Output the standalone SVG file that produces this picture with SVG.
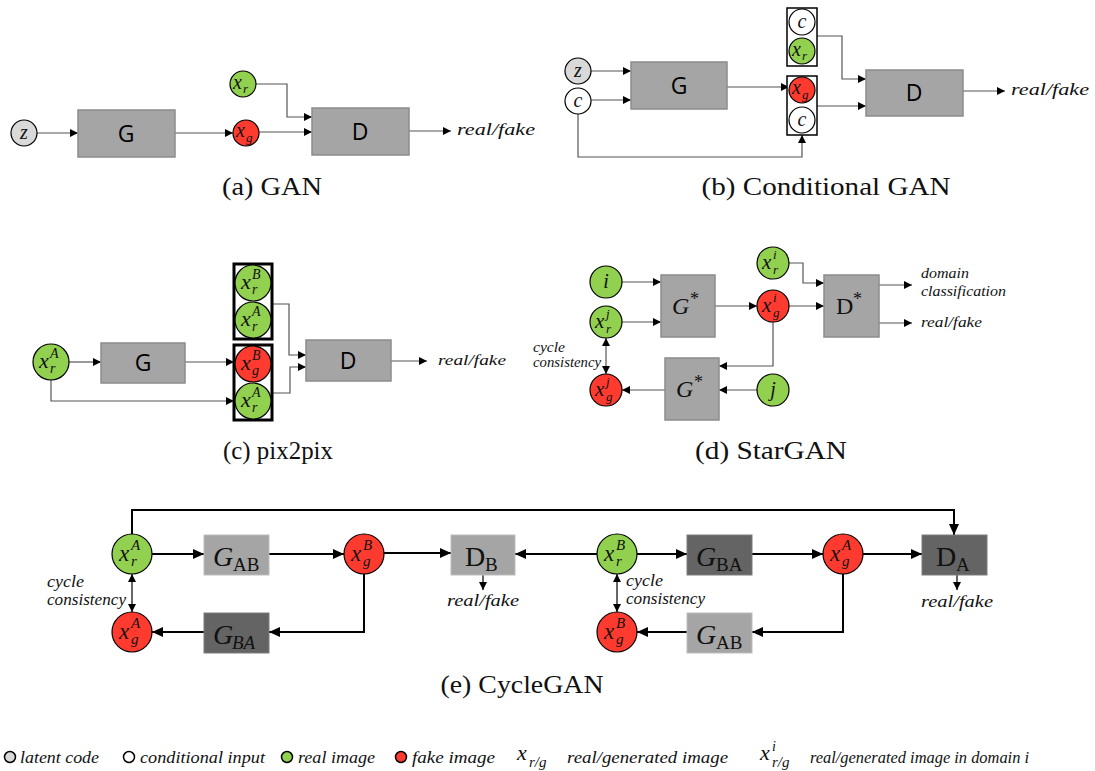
<svg xmlns="http://www.w3.org/2000/svg" width="1095" height="771" viewBox="0 0 1095 771">
<defs>
<marker id="a" markerUnits="userSpaceOnUse" markerWidth="8" markerHeight="8" refX="8" refY="4" orient="auto-start-reverse"><path d="M0,0 L8,4 L0,8 z" fill="#000"/></marker>
<marker id="b" markerUnits="userSpaceOnUse" markerWidth="11" markerHeight="10" refX="11" refY="5" orient="auto-start-reverse"><path d="M0,0 L11,5 L0,10 z" fill="#000"/></marker>
<style>
.box{fill:#a5a5a5;stroke:#8c8c8c;stroke-width:1.5}
.dk{fill:#646464;stroke:#7c7c7c;stroke-width:1}
.lt{fill:#a5a5a5;stroke:#bdbdbd;stroke-width:1}
.gr{fill:#92d050;stroke:#000;stroke-width:1.2}
.rd{fill:#ff3b30;stroke:#000;stroke-width:1.2}
.wh{fill:#fff;stroke:#000;stroke-width:1.2}
.zc{fill:#d9d9d9;stroke:#000;stroke-width:1.2}
.stk{fill:#fff;stroke:#000;stroke-width:1.5}
.stk3{fill:#fff;stroke:#000;stroke-width:3}
.ln{fill:none;stroke:#555;stroke-width:1.2;marker-end:url(#a)}
.lb{fill:none;stroke:#000;stroke-width:2;marker-end:url(#b)}
.sans{font-family:'Open Sans','Liberation Sans',sans-serif;font-size:23px;fill:#000;text-anchor:middle}
.m{font-family:'Liberation Serif',serif;font-style:italic;fill:#111}
.cap{font-family:'Liberation Serif',serif;font-size:26px;fill:#111;text-anchor:middle}
.sr{font-family:'Liberation Serif',serif;fill:#111}
</style>
</defs>

<g id="connectors">
<!-- (a) -->
<line class="ln" x1="37" y1="133" x2="78" y2="133"/>
<line class="ln" x1="175" y1="133" x2="233" y2="133"/>
<line class="ln" x1="259" y1="132" x2="312" y2="132"/>
<path class="ln" d="M256,84 H287 V117 H312"/>
<line class="ln" x1="409" y1="131" x2="451" y2="131"/>
<!-- (b) -->
<line class="ln" x1="591" y1="71" x2="631" y2="71"/>
<line class="ln" x1="591" y1="100" x2="631" y2="100"/>
<line class="ln" x1="727" y1="87" x2="789" y2="87"/>
<path class="ln" d="M817,36 H842 V79 H866"/>
<path class="ln" d="M817,106 H866"/>
<path class="ln" d="M578,114 V157 H802 V135"/>
<line class="ln" x1="963" y1="91" x2="1005" y2="91"/>
<!-- (c) -->
<line class="ln" x1="69" y1="362" x2="101" y2="362"/>
<line class="ln" x1="185" y1="362" x2="234" y2="362"/>
<path class="ln" d="M51,380 V401 H234"/>
<path class="ln" d="M272,304 H289 V355 H306"/>
<path class="ln" d="M272,393 H290 V367 H306"/>
<line class="ln" x1="391" y1="361" x2="427" y2="361"/>
<!-- (d) -->
<line class="ln" x1="622" y1="282" x2="661" y2="282"/>
<line class="ln" x1="622" y1="322" x2="661" y2="322"/>
<line class="ln" x1="715" y1="306" x2="757" y2="306"/>
<line class="ln" x1="789" y1="306" x2="824" y2="306"/>
<path class="ln" d="M789,263 H803 V283 H824"/>
<line class="ln" x1="879" y1="285" x2="912" y2="285"/>
<line class="ln" x1="879" y1="323" x2="912" y2="323"/>
<path class="ln" d="M773,322 V366 H719"/>
<line class="ln" x1="757" y1="390" x2="719" y2="390"/>
<line class="ln" x1="665" y1="390" x2="622" y2="390"/>
<line class="ln" x1="606" y1="338" x2="606" y2="374" marker-start="url(#a)"/>
<!-- (e) -->
<path class="lb" d="M132,534 V510 H954 V535"/>
<line class="lb" x1="152" y1="554" x2="204" y2="554"/>
<line class="lb" x1="269" y1="554" x2="344" y2="554"/>
<line class="lb" x1="384" y1="553" x2="451" y2="553"/>
<line class="lb" x1="597" y1="554" x2="515" y2="554"/>
<line class="lb" x1="637" y1="554" x2="687" y2="554"/>
<line class="lb" x1="752" y1="554" x2="823" y2="554"/>
<line class="lb" x1="863" y1="554" x2="922" y2="554"/>
<line class="ln" style="stroke:#000" x1="483" y1="575" x2="483" y2="590"/>
<line class="ln" style="stroke:#000" x1="957" y1="575" x2="957" y2="590"/>
<path class="lb" d="M364,574 V632 H269"/>
<line class="lb" x1="204" y1="632" x2="152" y2="632"/>
<path class="lb" d="M843,574 V632 H752"/>
<line class="lb" x1="687" y1="632" x2="637" y2="632"/>
<line class="ln" style="stroke:#000" x1="132" y1="574" x2="132" y2="612" marker-start="url(#a)"/>
<line class="ln" style="stroke:#000" x1="617" y1="574" x2="617" y2="612" marker-start="url(#a)"/>
</g>

<!-- ===== (a) GAN ===== -->
<g id="a-z"><circle class="zc" cx="24" cy="133" r="13"/><text class="m" x="24" y="139" font-size="20" text-anchor="middle">z</text></g>
<g id="a-G"><rect class="box" x="78" y="110" width="97" height="47"/><text class="sans" x="126" y="142">G</text></g>
<g id="a-xr"><circle class="gr" cx="243" cy="84" r="13"/><text class="m" x="233" y="89" font-size="20">x</text><text class="m" x="243" y="93" font-size="13">r</text></g>
<g id="a-xg"><circle class="rd" cx="246" cy="133" r="13"/><text class="m" x="236" y="137" font-size="20">x</text><text class="m" x="246" y="142" font-size="13">g</text></g>
<g id="a-D"><rect class="box" x="312" y="108" width="97" height="47"/><text class="sans" x="360" y="140">D</text></g>
<text class="m" x="457" y="135" font-size="16" textLength="78" lengthAdjust="spacingAndGlyphs">real/fake</text>
<text class="cap" x="272" y="195" textLength="100" lengthAdjust="spacingAndGlyphs">(a) GAN</text>

<!-- ===== (b) Conditional GAN ===== -->
<g id="b-z"><circle class="zc" cx="578" cy="71" r="13"/><text class="m" x="578" y="77" font-size="20" text-anchor="middle">z</text></g>
<g id="b-c"><circle class="wh" cx="578" cy="101" r="13"/><text class="m" x="578" y="107" font-size="20" text-anchor="middle">c</text></g>
<g id="b-G"><rect class="box" x="631" y="62" width="96" height="47"/><text class="sans" x="679" y="94">G</text></g>
<g id="b-top"><rect class="stk" x="787" y="8" width="30" height="58"/>
<circle class="wh" cx="802" cy="22" r="13"/><text class="m" x="802" y="28" font-size="20" text-anchor="middle">c</text>
<circle class="gr" cx="802" cy="51" r="13"/><text class="m" x="792" y="56" font-size="20">x</text><text class="m" x="802" y="60" font-size="13">r</text></g>
<g id="b-bot"><rect class="stk" x="787" y="76" width="30" height="59"/>
<circle class="rd" cx="802" cy="90" r="13"/><text class="m" x="792" y="94" font-size="20">x</text><text class="m" x="802" y="99" font-size="13">g</text>
<circle class="wh" cx="802" cy="120" r="13"/><text class="m" x="802" y="126" font-size="20" text-anchor="middle">c</text></g>
<g id="b-D"><rect class="box" x="866" y="70" width="97" height="46"/><text class="sans" x="914" y="101">D</text></g>
<text class="m" x="1011" y="95" font-size="16" textLength="78" lengthAdjust="spacingAndGlyphs">real/fake</text>
<text class="cap" x="826" y="195" textLength="249" lengthAdjust="spacingAndGlyphs">(b) Conditional GAN</text>

<!-- ===== (c) pix2pix ===== -->
<g id="c-xrA"><circle class="gr" cx="51" cy="362" r="18"/><text class="m" x="39" y="368" font-size="22">x</text><text class="m" x="50" y="358" font-size="14">A</text><text class="m" x="50" y="373" font-size="14">r</text></g>
<g id="c-G"><rect class="box" x="101" y="343" width="84" height="40"/><text class="sans" x="143" y="371">G</text></g>
<g id="c-top"><rect class="stk3" x="234" y="264" width="38" height="75"/>
<circle class="gr" cx="253" cy="283" r="18"/><text class="m" x="241" y="289" font-size="22">x</text><text class="m" x="252" y="279" font-size="14">B</text><text class="m" x="252" y="294" font-size="14">r</text>
<circle class="gr" cx="253" cy="320" r="18"/><text class="m" x="241" y="326" font-size="22">x</text><text class="m" x="252" y="316" font-size="14">A</text><text class="m" x="252" y="331" font-size="14">r</text></g>
<g id="c-bot"><rect class="stk3" x="234" y="345" width="38" height="75"/>
<circle class="rd" cx="253" cy="364" r="18"/><text class="m" x="241" y="370" font-size="22">x</text><text class="m" x="252" y="360" font-size="14">B</text><text class="m" x="252" y="375" font-size="14">g</text>
<circle class="gr" cx="253" cy="401" r="18"/><text class="m" x="241" y="407" font-size="22">x</text><text class="m" x="252" y="397" font-size="14">A</text><text class="m" x="252" y="412" font-size="14">r</text></g>
<g id="c-D"><rect class="box" x="306" y="340" width="85" height="41"/><text class="sans" x="348" y="369">D</text></g>
<text class="m" x="438" y="365" font-size="15" textLength="68" lengthAdjust="spacingAndGlyphs">real/fake</text>
<text class="cap" x="278" y="459" textLength="110" lengthAdjust="spacingAndGlyphs">(c) pix2pix</text>

<!-- ===== (d) StarGAN ===== -->
<g id="d-i"><circle class="gr" cx="606" cy="282" r="16"/><text class="m" x="606" y="288" font-size="20" text-anchor="middle">i</text></g>
<g id="d-xrj"><circle class="gr" cx="606" cy="322" r="16"/><text class="m" x="595" y="328" font-size="21">x</text><text class="m" x="606" y="318" font-size="13">j</text><text class="m" x="606" y="333" font-size="13">r</text></g>
<g id="d-G1"><rect class="box" x="661" y="275" width="54" height="62"/><text class="m" x="672" y="314" font-size="24">G</text><text class="sr" x="690" y="305" font-size="18">*</text></g>
<g id="d-xgi"><circle class="rd" cx="773" cy="306" r="16"/><text class="m" x="762" y="312" font-size="21">x</text><text class="m" x="773" y="302" font-size="13">i</text><text class="m" x="773" y="317" font-size="13">g</text></g>
<g id="d-xri"><circle class="gr" cx="773" cy="263" r="16"/><text class="m" x="762" y="269" font-size="21">x</text><text class="m" x="773" y="259" font-size="13">i</text><text class="m" x="773" y="274" font-size="13">r</text></g>
<g id="d-D"><rect class="box" x="824" y="275" width="55" height="62"/><text class="sr" x="836" y="314" font-size="24">D</text><text class="sr" x="853" y="305" font-size="18">*</text></g>
<text class="m" x="921" y="278" font-size="14" textLength="48" lengthAdjust="spacingAndGlyphs">domain</text>
<text class="m" x="921" y="296" font-size="14" textLength="85" lengthAdjust="spacingAndGlyphs">classification</text>
<text class="m" x="921" y="327" font-size="14" textLength="61" lengthAdjust="spacingAndGlyphs">real/fake</text>
<g id="d-G2"><rect class="box" x="665" y="358" width="54" height="62"/><text class="m" x="676" y="397" font-size="24">G</text><text class="sr" x="694" y="388" font-size="18">*</text></g>
<g id="d-j"><circle class="gr" cx="773" cy="390" r="16"/><text class="m" x="773" y="396" font-size="20" text-anchor="middle">j</text></g>
<g id="d-xgj"><circle class="rd" cx="606" cy="390" r="16"/><text class="m" x="595" y="396" font-size="21">x</text><text class="m" x="606" y="386" font-size="13">j</text><text class="m" x="606" y="401" font-size="13">g</text></g>
<text class="m" x="533" y="352" font-size="14" textLength="32" lengthAdjust="spacingAndGlyphs">cycle</text>
<text class="m" x="533" y="367" font-size="14" textLength="68" lengthAdjust="spacingAndGlyphs">consistency</text>
<text class="cap" x="771" y="459" textLength="152" lengthAdjust="spacingAndGlyphs">(d) StarGAN</text>

<!-- ===== (e) CycleGAN ===== -->
<g id="e-xrA"><circle class="gr" cx="132" cy="554" r="20"/><text class="m" x="119" y="561" font-size="23">x</text><text class="m" x="131" y="550" font-size="15">A</text><text class="m" x="131" y="566" font-size="15">r</text></g>
<g id="e-GAB1"><rect class="lt" x="204" y="535" width="65" height="40"/><text class="m" x="213" y="566" font-size="28">G</text><text class="sr" x="233" y="571" font-size="19">AB</text></g>
<g id="e-xgB1"><circle class="rd" cx="364" cy="554" r="20"/><text class="m" x="351" y="561" font-size="23">x</text><text class="m" x="363" y="550" font-size="15">B</text><text class="m" x="363" y="566" font-size="15">g</text></g>
<g id="e-DB"><rect class="lt" x="451" y="535" width="64" height="40"/><text class="sr" x="465" y="566" font-size="28">D</text><text class="sr" x="485" y="571" font-size="19">B</text></g>
<g id="e-xrB"><circle class="gr" cx="617" cy="554" r="20"/><text class="m" x="604" y="561" font-size="23">x</text><text class="m" x="616" y="550" font-size="15">B</text><text class="m" x="616" y="566" font-size="15">r</text></g>
<g id="e-GBA1"><rect class="dk" x="687" y="535" width="65" height="40"/><text class="m" x="696" y="566" font-size="28">G</text><text class="sr" x="716" y="571" font-size="19">BA</text></g>
<g id="e-xgA1"><circle class="rd" cx="843" cy="554" r="20"/><text class="m" x="830" y="561" font-size="23">x</text><text class="m" x="842" y="550" font-size="15">A</text><text class="m" x="842" y="566" font-size="15">g</text></g>
<g id="e-DA"><rect class="dk" x="922" y="535" width="65" height="40"/><text class="sr" x="936" y="566" font-size="28">D</text><text class="sr" x="956" y="571" font-size="19">A</text></g>
<g id="e-xgA2"><circle class="rd" cx="132" cy="632" r="20"/><text class="m" x="119" y="639" font-size="23">x</text><text class="m" x="131" y="628" font-size="15">A</text><text class="m" x="131" y="644" font-size="15">g</text></g>
<g id="e-GBA2"><rect class="dk" x="204" y="613" width="65" height="40"/><text class="m" x="213" y="644" font-size="28">G</text><text class="m" x="232" y="649" font-size="19">BA</text></g>
<g id="e-xgB2"><circle class="rd" cx="617" cy="632" r="20"/><text class="m" x="604" y="639" font-size="23">x</text><text class="m" x="616" y="628" font-size="15">B</text><text class="m" x="616" y="644" font-size="15">g</text></g>
<g id="e-GAB2"><rect class="lt" x="687" y="613" width="65" height="40"/><text class="m" x="696" y="644" font-size="28">G</text><text class="sr" x="716" y="649" font-size="19">AB</text></g>
<text class="m" x="447" y="606" font-size="16" textLength="72" lengthAdjust="spacingAndGlyphs">real/fake</text>
<text class="m" x="921" y="607" font-size="16" textLength="72" lengthAdjust="spacingAndGlyphs">real/fake</text>
<text class="m" x="47" y="587" font-size="16" textLength="37" lengthAdjust="spacingAndGlyphs">cycle</text>
<text class="m" x="47" y="605" font-size="16" textLength="79" lengthAdjust="spacingAndGlyphs">consistency</text>
<text class="m" x="626" y="586" font-size="16" textLength="37" lengthAdjust="spacingAndGlyphs">cycle</text>
<text class="m" x="626" y="604" font-size="16" textLength="79" lengthAdjust="spacingAndGlyphs">consistency</text>
<text class="cap" x="522" y="693" textLength="163" lengthAdjust="spacingAndGlyphs">(e) CycleGAN</text>

<!-- ===== Legend ===== -->
<g id="legend">
<circle class="zc" cx="10" cy="757" r="5.5" style="stroke-width:1.5"/>
<text class="m" x="20" y="763" font-size="16" textLength="79" lengthAdjust="spacingAndGlyphs">latent code</text>
<circle class="wh" cx="129" cy="757" r="5.5" style="stroke-width:1.5"/>
<text class="m" x="140" y="763" font-size="16" textLength="125" lengthAdjust="spacingAndGlyphs">conditional input</text>
<circle class="gr" cx="287" cy="757" r="5.5" style="stroke-width:1.5"/>
<text class="m" x="298" y="763" font-size="16" textLength="77" lengthAdjust="spacingAndGlyphs">real image</text>
<circle class="rd" cx="401" cy="757" r="5.5" style="stroke-width:1.5"/>
<text class="m" x="412" y="763" font-size="16" textLength="83" lengthAdjust="spacingAndGlyphs">fake image</text>
<text class="m" x="517" y="760" font-size="22">x</text><text class="m" x="529" y="767" font-size="15">r/g</text>
<text class="m" x="567" y="763" font-size="16" textLength="161" lengthAdjust="spacingAndGlyphs">real/generated image</text>
<text class="m" x="760" y="760" font-size="22">x</text><text class="m" x="772" y="751" font-size="14">i</text><text class="m" x="772" y="767" font-size="15">r/g</text>
<text class="m" x="810" y="763" font-size="16" textLength="219" lengthAdjust="spacingAndGlyphs">real/generated image in domain i</text>
</g>
</svg>
